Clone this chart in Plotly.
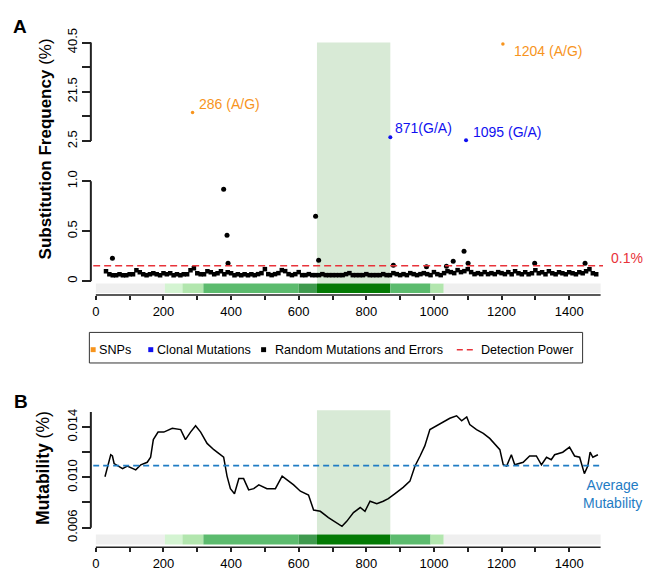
import plotly.graph_objects as go

# ---------------- data ----------------
region_start = [0, 204, 256, 318, 600, 654, 871, 990, 1029]
region_end = [204, 256, 318, 600, 654, 871, 990, 1029, 1493]
region_color = ["#efefef", "#d4f4d2", "#b2e6ae", "#5cbb6e", "#3f9a4e", "#037a04",
                "#5cbb6e", "#b2e6ae", "#efefef"]
highlight_region = [654, 871]

snp_pos = [286, 1204]
snp_freq = [13.5, 39.9]
snp_label = ["286 (A/G)", "1204 (A/G)"]

clonal_pos = [871, 1095]
clonal_freq = [4.0, 2.8]
clonal_label = ["871(G/A)", "1095 (G/A)"]

rand_pos = list(range(30, 1481, 10))
rand_freq = [
    0.10, 0.07, 0.06, 0.06, 0.07, 0.06, 0.06, 0.07,
    0.07, 0.11, 0.09, 0.07, 0.06, 0.07, 0.08, 0.07, 0.06, 0.08,
    0.07, 0.08, 0.06, 0.07, 0.06, 0.07, 0.07, 0.11, 0.13, 0.08,
    0.07, 0.07, 0.10, 0.09, 0.07, 0.08, 0.10, 0.07, 0.09, 0.08,
    0.06, 0.07, 0.06, 0.07, 0.06, 0.07, 0.06, 0.07, 0.08, 0.12,
    0.07, 0.06, 0.07, 0.08, 0.11, 0.10, 0.07, 0.06, 0.07, 0.09,
    0.06, 0.06, 0.07, 0.06, 0.06, 0.06, 0.07, 0.06, 0.06, 0.06,
    0.06, 0.06, 0.06, 0.07, 0.08, 0.06, 0.06, 0.06, 0.06, 0.07,
    0.06, 0.06, 0.06, 0.06, 0.07, 0.06, 0.06, 0.08, 0.07, 0.06,
    0.07, 0.06, 0.08, 0.07, 0.06, 0.07, 0.08, 0.07, 0.06, 0.09,
    0.07, 0.06, 0.08, 0.10, 0.09, 0.08, 0.11, 0.09, 0.10, 0.12,
    0.09, 0.07, 0.08, 0.07, 0.09, 0.07, 0.08, 0.07, 0.09, 0.08,
    0.07, 0.09, 0.07, 0.10, 0.08, 0.07, 0.09, 0.07, 0.08, 0.11,
    0.08, 0.09, 0.07, 0.10, 0.08, 0.07, 0.09, 0.08, 0.07, 0.09,
    0.08, 0.07, 0.09, 0.08, 0.10, 0.12, 0.08, 0.07,
]
outlier_pos = [49, 378, 388, 391, 650, 659, 880, 978, 1037, 1057, 1089, 1101, 1298, 1447]
outlier_freq = [0.23, 0.92, 0.46, 0.18, 0.65, 0.21, 0.16, 0.145, 0.15, 0.20, 0.30, 0.18, 0.18, 0.18]

detection_power = 0.155
detection_label = "0.1%"

mut_pos = [27, 35, 44, 49, 54, 79, 93, 118, 133, 152, 162, 170, 184, 201, 226,
           251, 265, 280, 295, 310, 329, 349, 378, 388, 398, 410, 423, 437, 452, 467,
           482, 506, 531, 551, 570, 585, 605, 629, 644, 664, 688, 713, 728, 742, 762,
           782, 796, 811, 831, 850, 865, 885, 909, 929, 944, 959, 973, 988, 1008, 1023,
           1047, 1067, 1082, 1097, 1106, 1126, 1146, 1165, 1185, 1195, 1205, 1215, 1229, 1239, 1264,
           1283, 1303, 1318, 1333, 1347, 1357, 1381, 1401, 1416, 1431, 1445, 1455, 1462, 1470, 1485]
mut_val = [0.01005, 0.0109, 0.0118, 0.0117, 0.0111, 0.0107, 0.0109, 0.0106, 0.0110, 0.0112,
           0.0116, 0.0130, 0.0136, 0.0136, 0.0139, 0.0138, 0.0130, 0.0136, 0.0141, 0.0136,
           0.0127, 0.0122, 0.0116, 0.0101, 0.0091, 0.0087, 0.0099, 0.0099, 0.0090, 0.0091,
           0.0094, 0.0091, 0.0091, 0.0101, 0.0097, 0.0094, 0.0089, 0.0086, 0.0074, 0.0073,
           0.0068, 0.0064, 0.0061, 0.0065, 0.0072, 0.0076, 0.0073, 0.0081, 0.0079, 0.0081,
           0.0083, 0.0087, 0.0092, 0.0097, 0.0109, 0.0117, 0.0125, 0.0138, 0.0141, 0.0143,
           0.0147, 0.0149, 0.0145, 0.0148, 0.0142, 0.0138, 0.0135, 0.0131, 0.0125, 0.0122,
           0.0110, 0.0109, 0.0118, 0.0110, 0.0112, 0.0117, 0.0117, 0.0110, 0.0116, 0.0114,
           0.0118, 0.0120, 0.0124, 0.0117, 0.0116, 0.0103, 0.0109, 0.0120, 0.0116, 0.0118]
avg_mutability = 0.01093

x_tick_vals = [0, 100, 200, 300, 400, 500, 600, 700, 800, 900, 1000, 1100, 1200, 1300, 1400]
x_tick_text = ["0", "", "200", "", "400", "", "600", "", "800", "", "1000", "", "1200", "", "1400"]
ya_low_ticks = [0, 0.5, 1.0]
ya_low_text = ["0", "0.5", "1.0"]
ya_up_ticks = [2.5, 12, 21.5, 31, 40.5]
ya_up_text = ["2.5", "", "21.5", "", "40.5"]
yb_ticks = [0.006, 0.008, 0.010, 0.012, 0.014]
yb_text = ["0.006", "", "0.010", "", "0.014"]

legend_items = ["SNPs", "Clonal Mutations", "Random Mutations and Errors", "Detection Power"]

# ---------------- layout helpers ----------------
W, H = 653, 573
FONT = "Liberation Sans"
C_SNP = "#f7941d"
C_CLON = "#1010f0"
C_RED = "#e8333a"
C_AVG = "#1f7cc4"
C_HL = "#d8ead6"


def fx(p):
    return p / W


def fy(p):
    return 1 - p / H


SX = 0.3386          # px per nucleotide
X0 = 95              # px of position 0
XR = [-8, 1502]
xdom = [fx(X0 + XR[0] * SX), fx(X0 + XR[1] * SX)]
YAXIS_PX = 90

low_dom_px = (291, 165)
low_range = [(277 - 291) / 101.4, (277 - 165) / 101.4]
up_dom_px = (142, 28)
up_range = [2.5 - 7 * 0.38, 2.5 + 107 * 0.38]
b_dom_px = (547, 405)
b_range = [0.010 - 71 / 12750, 0.010 + 71 / 12750]

fig = go.Figure()

fig.add_trace(go.Scatter(
    x=rand_pos, y=rand_freq, mode="markers",
    marker=dict(color="black", size=4.5, symbol="square"), xaxis="x", yaxis="y",
    name="Random Mutations and Errors", showlegend=False, hoverinfo="x+y"))
fig.add_trace(go.Scatter(
    x=outlier_pos, y=outlier_freq, mode="markers",
    marker=dict(color="black", size=5), xaxis="x", yaxis="y",
    name="Random Mutations and Errors", showlegend=False, hoverinfo="x+y"))
fig.add_trace(go.Scatter(
    x=[XR[0], 1500], y=[detection_power, detection_power], mode="lines",
    line=dict(color=C_RED, width=1.5, dash="7px,4px"), xaxis="x", yaxis="y",
    name="Detection Power", showlegend=False))
fig.add_trace(go.Scatter(
    x=snp_pos, y=snp_freq, mode="markers", marker=dict(color=C_SNP, size=3.5),
    xaxis="x", yaxis="y3", name="SNPs", showlegend=False))
fig.add_trace(go.Scatter(
    x=clonal_pos, y=clonal_freq, mode="markers", marker=dict(color=C_CLON, size=4),
    xaxis="x", yaxis="y3", name="Clonal Mutations", showlegend=False))
fig.add_trace(go.Scatter(
    x=mut_pos, y=mut_val, mode="lines", line=dict(color="black", width=1.5),
    xaxis="x2", yaxis="y2", name="Mutability", showlegend=False))
fig.add_trace(go.Scatter(
    x=[XR[0], 1492], y=[avg_mutability, avg_mutability], mode="lines",
    line=dict(color=C_AVG, width=1.8, dash="6px,4px"), xaxis="x2", yaxis="y2",
    name="Average Mutability", showlegend=False))

shapes = []
shapes.append(dict(type="rect", xref="x", yref="paper", x0=highlight_region[0], x1=highlight_region[1],
                   y0=fy(279.5), y1=fy(35), fillcolor=C_HL, line=dict(width=0), layer="below"))
shapes.append(dict(type="rect", xref="x2", yref="paper", x0=highlight_region[0], x1=highlight_region[1],
                   y0=fy(534), y1=fy(408), fillcolor=C_HL, line=dict(width=0), layer="below"))
for xr, (top, bot) in (("x", (279.5, 289)), ("x2", (534, 544))):
    for s, e, c in zip(region_start, region_end, region_color):
        shapes.append(dict(type="rect", xref=xr, yref="paper", x0=s, x1=e,
                           y0=fy(bot), y1=fy(top), fillcolor=c, line=dict(width=0)))
axis_line = dict(color="#222", width=2)
shapes.append(dict(type="line", xref="paper", yref="y", x0=fx(YAXIS_PX), x1=fx(YAXIS_PX),
                   y0=ya_low_ticks[0], y1=ya_low_ticks[-1], line=axis_line))
shapes.append(dict(type="line", xref="paper", yref="y3", x0=fx(YAXIS_PX), x1=fx(YAXIS_PX),
                   y0=ya_up_ticks[0], y1=ya_up_ticks[-1], line=axis_line))
shapes.append(dict(type="line", xref="paper", yref="y2", x0=fx(YAXIS_PX), x1=fx(YAXIS_PX),
                   y0=yb_ticks[0], y1=max(mut_val) + 0.0003, line=axis_line))
shapes.append(dict(type="line", xref="x", yref="paper", x0=0, x1=region_end[-1],
                   y0=fy(low_dom_px[0]), y1=fy(low_dom_px[0]), line=dict(color="#222", width=1.5)))
shapes.append(dict(type="line", xref="x2", yref="paper", x0=0, x1=region_end[-1],
                   y0=fy(b_dom_px[0]), y1=fy(b_dom_px[0]), line=dict(color="#222", width=1.5)))

# legend box drawn by hand (compact R-style legend)
shapes.append(dict(type="rect", xref="paper", yref="paper", x0=fx(88.5), x1=fx(582.5),
                   y0=fy(360), y1=fy(329), line=dict(color="#333", width=1), fillcolor="rgba(0,0,0,0)"))
leg_y = 346.5
sq = 2.5
for cx, col in ((92.3, C_SNP), (150, C_CLON), (263, "black")):
    shapes.append(dict(type="rect", xref="paper", yref="paper", x0=fx(cx - sq), x1=fx(cx + sq),
                       y0=fy(leg_y + sq), y1=fy(leg_y - sq), fillcolor=col, line=dict(width=0)))
shapes.append(dict(type="line", xref="paper", yref="paper", x0=fx(456.5), x1=fx(473.5),
                   y0=fy(leg_y), y1=fy(leg_y), line=dict(color=C_RED, width=1.5, dash="6px,4px")))

annotations = []
for tx, txt in zip((96.5, 154, 272, 479), legend_items):
    annotations.append(dict(xref="paper", yref="paper", x=fx(tx), y=fy(leg_y), text=txt,
                            showarrow=False, xanchor="left", yanchor="middle",
                            font=dict(family=FONT, size=12.6, color="black")))

label_shift = {"286 (A/G)": (4, 9), "1204 (A/G)": (9, -7), "871(G/A)": (3, 9), "1095 (G/A)": (5, 8)}
for xs, ys, labs, col in ((snp_pos, snp_freq, snp_label, C_SNP), (clonal_pos, clonal_freq, clonal_label, C_CLON)):
    for xv, yv, lab in zip(xs, ys, labs):
        dx, dy = label_shift[lab]
        annotations.append(dict(xref="x", yref="y3", x=xv, y=yv, text=lab, showarrow=False,
                                xanchor="left", yanchor="middle", xshift=dx, yshift=dy,
                                font=dict(family=FONT, size=14, color=col)))
annotations.append(dict(xref="paper", yref="y", x=fx(609), y=detection_power, text=detection_label,
                        showarrow=False, xanchor="left", yanchor="middle", yshift=8,
                        font=dict(family=FONT, size=14, color=C_RED)))
annotations.append(dict(xref="paper", yref="paper", x=fx(612), y=fy(493), text="Average<br>Mutability",
                        showarrow=False, xanchor="center", yanchor="middle",
                        font=dict(family=FONT, size=14, color=C_AVG)))
annotations.append(dict(xref="paper", yref="paper", x=fx(19), y=fy(19), text="<b>A</b>", showarrow=False,
                        xanchor="center", yanchor="middle", font=dict(family=FONT, size=19, color="black")))
annotations.append(dict(xref="paper", yref="paper", x=fx(20), y=fy(399), text="<b>B</b>", showarrow=False,
                        xanchor="center", yanchor="middle", font=dict(family=FONT, size=19, color="black")))
annotations.append(dict(xref="paper", yref="paper", x=fx(45), y=fy(142.5),
                        text="<b>Substitution Frequency</b> (%)", textangle=-90, showarrow=False,
                        xanchor="center", yanchor="middle", font=dict(family=FONT, size=17, color="black")))
annotations.append(dict(xref="paper", yref="paper", x=fx(42), y=fy(466.5),
                        text="<b>Mutability</b> (%)", textangle=-90, showarrow=False,
                        xanchor="center", yanchor="middle", font=dict(family=FONT, size=17.5, color="black")))

tickfont = dict(family=FONT, size=13, color="black")
xcommon = dict(range=XR, domain=xdom, showgrid=False, zeroline=False, showline=False,
               ticks="outside", ticklen=4, tickwidth=1.5, tickcolor="#222",
               tickvals=x_tick_vals, ticktext=x_tick_text, tickfont=tickfont, ticklabelstandoff=0)
ycommon = dict(showgrid=False, zeroline=False, showline=False, ticks="outside", ticklen=9,
               tickwidth=1.8, tickcolor="#222", tickangle=-90, tickfont=tickfont,
               anchor="free", position=fx(YAXIS_PX))

fig.update_layout(
    width=W, height=H, autosize=False,
    margin=dict(l=0, r=0, t=0, b=0),
    paper_bgcolor="white", plot_bgcolor="white",
    font=dict(family=FONT, color="black"),
    showlegend=False,
    xaxis=dict(anchor="y", **xcommon),
    xaxis2=dict(anchor="y2", **xcommon),
    yaxis=dict(domain=[fy(low_dom_px[0]), fy(low_dom_px[1])], range=low_range,
               tickvals=ya_low_ticks, ticktext=ya_low_text, **ycommon),
    yaxis3=dict(domain=[fy(up_dom_px[0]), fy(up_dom_px[1])], range=up_range,
                tickvals=ya_up_ticks, ticktext=ya_up_text, **ycommon),
    yaxis2=dict(domain=[fy(b_dom_px[0]), fy(b_dom_px[1])], range=b_range,
                tickvals=yb_ticks, ticktext=yb_text, **ycommon),
    shapes=shapes,
    annotations=annotations,
)

fig.write_html(
    "out.html",
    config={"displayModeBar": False},
    post_script="document.body.style.margin='0px';document.body.style.overflow='hidden';",
)
